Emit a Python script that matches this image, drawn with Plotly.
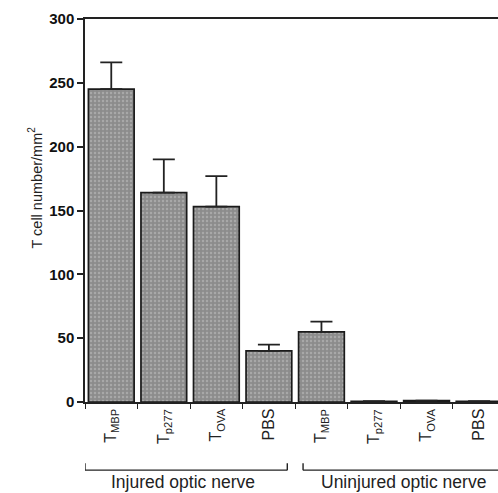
import plotly.graph_objects as go

categories = ["T<sub>MBP</sub>", "T<sub>p277</sub>", "T<sub>OVA</sub>", "PBS",
              "T<sub>MBP</sub>", "T<sub>p277</sub>", "T<sub>OVA</sub>", "PBS"]
values = [245, 164, 153, 40, 55, 0.6, 1.0, 0.6]
errors_up = [21, 26, 24, 5, 8, None, None, None]
y_ticks = [0, 50, 100, 150, 200, 250, 300]
groups = ["Injured optic nerve", "Uninjured optic nerve"]
y_title = "T cell number/mm<sup>2</sup>"

x = list(range(len(categories)))

fig = go.Figure()
fig.add_trace(go.Bar(
    x=x, y=values, width=0.87,
    marker=dict(color="#8c8c8c",
                line=dict(color="#1a1a1a", width=1.7),
                pattern=dict(shape=".", fgcolor="#c4c4c4", size=4, solidity=0.3)),
    error_y=dict(type="data", symmetric=False, array=errors_up,
                 arrayminus=[0] * len(values), color="#222222",
                 thickness=1.8, width=11),
    showlegend=False,
))

font = "Liberation Sans, Arial, sans-serif"

for xi, lab in zip(x, categories):
    fig.add_annotation(x=xi, y=-0.012, xref="x", yref="paper", text=lab,
                       textangle=-90, showarrow=False, xanchor="center",
                       yanchor="top", font=dict(family=font, size=16, color="#222"))

# group brackets
brackets = [(-0.5, 3.35), (3.65, 7.4)]
label_x = [1.36, 5.57]
for (x0, x1), g, lx in zip(brackets, groups, label_x):
    yb = -0.178
    ytop = -0.16
    fig.add_shape(type="line", xref="x", yref="paper", x0=x0, x1=x1, y0=yb, y1=yb,
                  line=dict(color="#222", width=1.4))
    fig.add_shape(type="line", xref="x", yref="paper", x0=x0, x1=x0, y0=yb, y1=ytop,
                  line=dict(color="#222", width=1.4))
    if x1 < 7:
        fig.add_shape(type="line", xref="x", yref="paper", x0=x1, x1=x1, y0=yb, y1=ytop,
                      line=dict(color="#222", width=1.4))
    fig.add_annotation(x=lx, y=-0.208, xref="x", yref="paper", text=g,
                       showarrow=False, xanchor="center", yanchor="middle",
                       borderpad=0,
                       font=dict(family=font, size=17.5, color="#222"))

fig.add_annotation(x=-0.121, y=0.56, xref="paper", yref="paper", text=y_title,
                   textangle=-90, showarrow=False, xanchor="center", yanchor="middle",
                   font=dict(family=font, size=14.5, color="#222"))

fig.update_layout(
    width=498, height=493,
    margin=dict(l=85, r=0, t=19, b=91),
    plot_bgcolor="white", paper_bgcolor="white",
    bargap=0.1,
    xaxis=dict(range=[-0.5, 7.36], tickmode="array",
               tickvals=[i - 0.5 for i in range(9)], showticklabels=False,
               ticks="outside", ticklen=5, tickwidth=1.3, tickcolor="#222",
               showline=True, linecolor="#222", linewidth=1.5, mirror=True,
               showgrid=False, zeroline=False),
    yaxis=dict(range=[0, 300], tickvals=y_ticks,
               ticks="outside", ticklen=6, tickwidth=1.5, tickcolor="#222",
               showline=True, linecolor="#222", linewidth=1.5,
               showgrid=False, zeroline=False,
               tickfont=dict(family=font, size=15, color="#111", weight="bold")),
)

fig.write_html("out.html")
